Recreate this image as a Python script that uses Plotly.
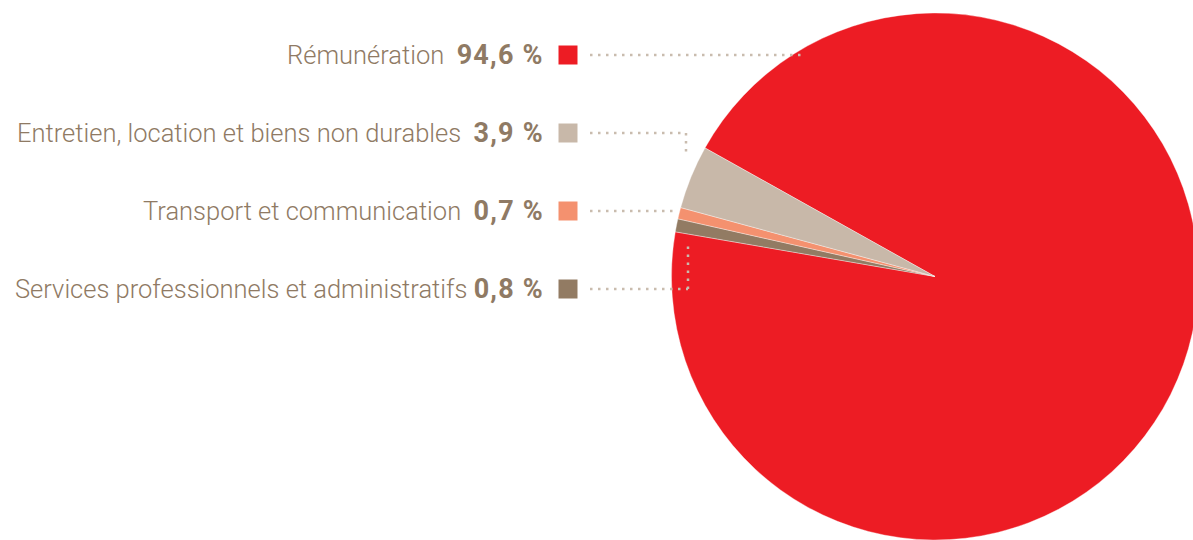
import plotly.graph_objects as go

# data
LABELS = [
    "Rémunération",
    "Entretien, location et biens non durables",
    "Transport et communication",
    "Services professionnels et administratifs",
]
VALUES = [94.6, 3.9, 0.7, 0.8]
PCT_TEXT = ["94,6 %", "3,9 %", "0,7 %", "0,8 %"]

RED = "#ed1c24"
TAN = "#c8b8a9"
SALMON = "#f4916f"
BROWN = "#927b63"
COLORS = [RED, TAN, SALMON, BROWN]
TEXT = "#8f7a64"
DOTS = "#c9bcae"

# figure is a little wider than the window: the pie is cut at the right edge
W, H = 1206, 540
TOP, BOT = 13, 0
FONT = "Roboto, sans-serif"

# pie is drawn clockwise: red, services, transport, entretien
ORDER = [0, 3, 2, 1]
PIE_X = [671, 1199]

# layout of the label column (pixel coords)
ROW_Y = [55 + 78 * i for i in range(len(LABELS))]
TEXT_RIGHT = 546
SWATCH_X = 568
LEADER_START = 590
LEADER_END_X = [805, 686, 676, 688]
LEADER_END_Y = [None, 157, None, 241]
GAPS = ["  ", "  ", "  ", " "]

fig = go.Figure()

fig.add_trace(go.Pie(
    labels=[LABELS[i] for i in ORDER],
    values=[VALUES[i] for i in ORDER],
    marker=dict(colors=[COLORS[i] for i in ORDER],
                line=dict(color="rgba(255,255,255,0.6)", width=0.6)),
    sort=False, direction="clockwise", rotation=-60.8,
    textinfo="none", hoverinfo="label+percent",
    domain=dict(x=[PIE_X[0] / W, PIE_X[1] / W], y=[0, 1]),
    showlegend=False,
))

# leader lines (shapes, so they sit above the pie)
for i, y in enumerate(ROW_Y):
    pts = [(LEADER_START, y), (LEADER_END_X[i], y)]
    if LEADER_END_Y[i] is not None:
        pts.append((LEADER_END_X[i], LEADER_END_Y[i]))
    for (x0, y0), (x1, y1) in zip(pts[:-1], pts[1:]):
        fig.add_shape(
            type="line", x0=x0, y0=y0, x1=x1, y1=y1, xref="x", yref="y",
            layer="above", line=dict(color=DOTS, width=2.5, dash="2.5px,5.5px"),
        )

# swatches
fig.add_trace(go.Scatter(
    x=[SWATCH_X] * len(LABELS), y=ROW_Y, mode="markers", showlegend=False,
    marker=dict(symbol="square", size=19, color=COLORS, line=dict(width=0)),
    hoverinfo="skip",
))

for i, y in enumerate(ROW_Y):
    fig.add_annotation(
        x=TEXT_RIGHT, y=y, xref="x", yref="y", xanchor="right", yanchor="middle",
        text=(f"{LABELS[i]}{GAPS[i]}<b><span style='font-size:27px;letter-spacing:1.2px'>"
              f"{PCT_TEXT[i]}</span></b>"),
        showarrow=False,
        font=dict(family=FONT, size=25.5, color=TEXT, weight=300),
    )

fig.update_layout(
    width=W, height=H, paper_bgcolor="white", plot_bgcolor="rgba(0,0,0,0)",
    margin=dict(l=0, r=0, t=TOP, b=BOT),
    font=dict(family=FONT, color=TEXT),
    xaxis=dict(range=[0, W], visible=False, fixedrange=True),
    yaxis=dict(range=[H - BOT, TOP], visible=False, fixedrange=True),
)

fig.write_html(
    "out.html",
    config={"displayModeBar": False},
    post_script="document.body.style.margin='0';document.body.style.overflow='hidden';",
)
